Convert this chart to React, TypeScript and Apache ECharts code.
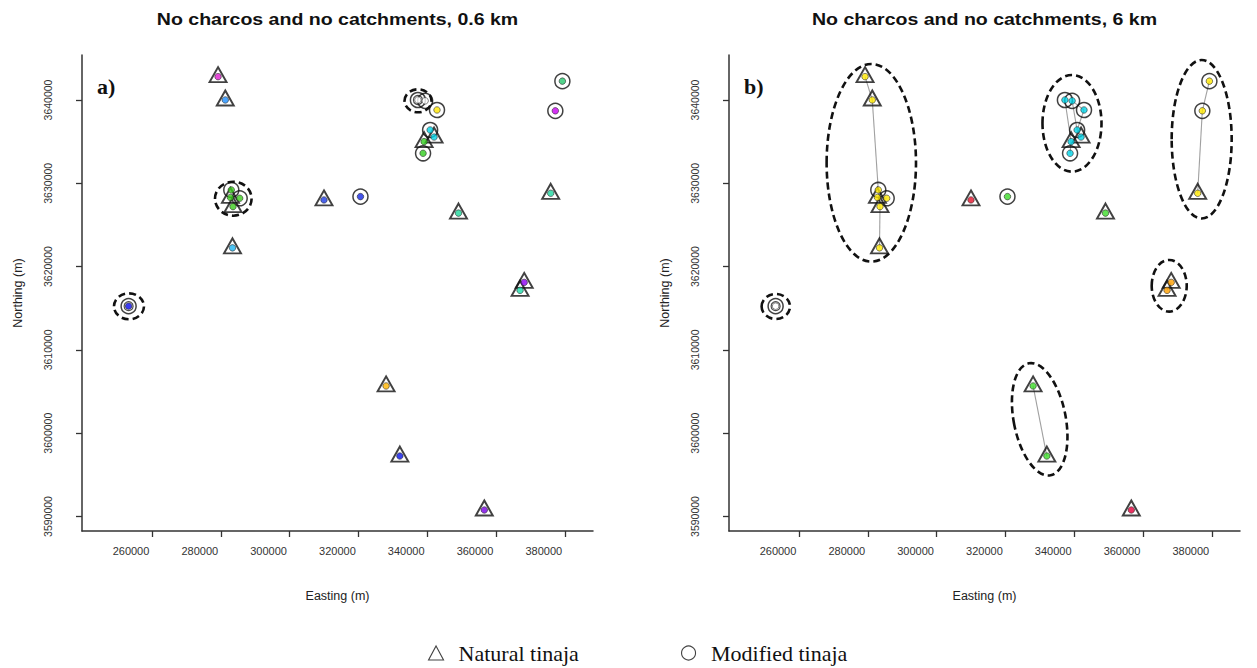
import React, { useEffect, useRef } from "react";
import * as echarts from "echarts";

// ---------- axis ticks ----------
const xTicks = [260000, 280000, 300000, 320000, 340000, 360000, 380000];
const yTicks = [3590000, 3600000, 3610000, 3620000, 3630000, 3640000];

// ---------- natural tinajas (triangles) ----------
const naturalIds = ["N1", "N2", "N3", "N4", "N5", "N6", "N7", "N8", "N9", "N10", "N11", "N12", "N13", "N14", "N15"];
const naturalEasting = [279200, 281300, 283550, 282800, 283400, 310000, 342000, 339100, 375900, 349100, 368200, 367000, 328050, 332050, 356600];
const naturalNorthing = [3642800, 3640000, 3627200, 3628300, 3622250, 3628000, 3635550, 3635000, 3628800, 3626420, 3618100, 3617150, 3605670, 3597260, 3590780];
const naturalColorA = ["#E01ED0", "#1E8FFF", "#3CCB1E", "#3CCB1E", "#1EB4F0", "#1E3CE6", "#00D2E6", "#32CD1E", "#1ED7A0", "#1ED79B", "#8C00F0", "#1EDCAA", "#FFB400", "#0A14E6", "#7800E6"];
const naturalColorB = ["#FFE800", "#FFE800", "#FFE800", "#FFE800", "#FFE800", "#E6142D", "#00D2E6", "#00D2E6", "#FFE800", "#3CDC28", "#FFA000", "#FFA000", "#3CDC28", "#3CDC28", "#E6003C"];

// ---------- modified tinajas (circles) ----------
const modifiedIds = ["M1", "M2", "M3", "M4", "M5", "M6", "M7", "M8", "M9", "M10", "M11"];
const modifiedEasting = [253200, 283050, 285490, 320600, 337300, 339400, 342850, 340850, 338800, 379300, 377250];
const modifiedNorthing = [3615250, 3629200, 3628200, 3628400, 3640000, 3639900, 3638800, 3636400, 3633600, 3642260, 3638700];
const modifiedColorA = ["#0A0AF0", "#3CCB1E", "#3CCB1E", "#1428E6", "#FFFFFF", "#FFFFFF", "#FFE600", "#00D2E6", "#32CD1E", "#28C86E", "#C800F0"];
const modifiedColorB = ["#FFFFFF", "#FFE800", "#FFE800", "#3CDC28", "#00D2E6", "#00D2E6", "#00D2E6", "#00D2E6", "#00D2E6", "#FFE800", "#FFE800"];

// sites drawn with an extra inner ring (stacked sites)
const ringsA = ["M1", "M5"];
const ringsB = ["M1"];

// cluster links (panel b, 6 km)
const linksB: [string, string][] = [
  ["N1", "N2"], ["N2", "M2"], ["M2", "N3"], ["N3", "N5"], ["M3", "N4"],
  ["M5", "N8"], ["M6", "M7"], ["M7", "M8"], ["M8", "N7"], ["N8", "M9"], ["M6", "M8"],
  ["M10", "M11"], ["M11", "N9"],
  ["N13", "N14"],
  ["N11", "N12"],
];

// cluster outlines: [centre easting, centre northing, half-width (m), half-height (m), tilt deg]
const ellipsesA = [
  [283630, 3628150, 5320, 2040, 0],
  [253310, 3615230, 4360, 1560, 0],
  [337330, 3639900, 3920, 1380, 0],
];
const ellipsesB = [
  [281020, 3632460, 12990, 11860, 0],
  [253260, 3615210, 4130, 1500, 0],
  [339360, 3637200, 8580, 5800, 0],
  [377060, 3635290, 8720, 9510, 0],
  [367620, 3617700, 5090, 3100, 0],
  [329970, 3601670, 7560, 6840, 11],
];

const titles = ["No charcos and no catchments, 0.6 km", "No charcos and no catchments, 6 km"];
const panelTags = ["a)", "b)"];
const legendNames = ["Natural tinaja", "Modified tinaja"];

// ---------- helpers ----------
const X_MIN = 239650;
const X_MAX = 388200;
const Y_MIN = 3588260;
const Y_MAX = 3645400;

function lookup(id: string): [number, number] {
  const ni = naturalIds.indexOf(id);
  if (ni >= 0) return [naturalEasting[ni], naturalNorthing[ni]];
  const mi = modifiedIds.indexOf(id);
  return [modifiedEasting[mi], modifiedNorthing[mi]];
}

const SANS = "Liberation Sans, Arial, sans-serif";
const SERIF = "Liberation Serif, Times New Roman, serif";

const GRID_LEFT = [82, 729];
const GRID_TOP = 55;
const GRID_W = 511;
const GRID_H = 476;
const LEGEND_LEFT = [428, 681];

const plain = (v: number) => String(Math.round(v));

function makeXAxis(i: number) {
  return {
    type: "value",
    gridIndex: i,
    min: X_MIN,
    max: X_MAX,
    splitLine: { show: false },
    axisLine: { show: true, onZero: false, lineStyle: { color: "#333", width: 1.5 } },
    axisTick: { show: true, customValues: xTicks, length: 6, lineStyle: { color: "#333", width: 1.3 } },
    axisLabel: {
      customValues: xTicks,
      formatter: plain,
      fontSize: 11,
      fontFamily: SANS,
      color: "#333",
      margin: 14,
      padding: [0, 42, 0, 0],
    },
    name: "Easting (m)",
    nameLocation: "middle",
    nameGap: 58,
    nameTextStyle: { fontSize: 12.5, fontFamily: SANS, color: "#222" },
  };
}

function makeYAxis(i: number) {
  return {
    type: "value",
    gridIndex: i,
    min: Y_MIN,
    max: Y_MAX,
    splitLine: { show: false },
    axisLine: { show: true, onZero: false, lineStyle: { color: "#333", width: 1.5 } },
    axisTick: { show: true, customValues: yTicks, length: 6, lineStyle: { color: "#333", width: 1.3 } },
    axisLabel: {
      customValues: yTicks,
      formatter: plain,
      rotate: 90,
      fontSize: 10.5,
      fontFamily: SANS,
      color: "#333",
      margin: 29,
    },
    name: "Northing (m)",
    nameLocation: "middle",
    nameRotate: 90,
    nameGap: 58,
    nameTextStyle: { fontSize: 12.5, fontFamily: SANS, color: "#222" },
  };
}

function ellipseSeries(i: number, data: number[][]) {
  return {
    type: "custom",
    xAxisIndex: i,
    yAxisIndex: i,
    silent: true,
    z: 5,
    data,
    renderItem: (_p: any, api: any) => {
      const c = api.coord([api.value(0), api.value(1)]);
      const s = api.size([api.value(2), api.value(3)]);
      const ang = (api.value(4) * Math.PI) / 180;
      return {
        type: "ellipse",
        x: c[0],
        y: c[1],
        rotation: ang,
        shape: { cx: 0, cy: 0, rx: s[0], ry: s[1] },
        style: { fill: "none", stroke: "#111", lineWidth: 2.6, lineDash: [7, 4] },
      };
    },
  };
}

function linkSeries(i: number, links: [string, string][]) {
  const data = links.map(([a, b]) => {
    const p = lookup(a);
    const q = lookup(b);
    return [p[0], p[1], q[0], q[1]];
  });
  return {
    type: "custom",
    xAxisIndex: i,
    yAxisIndex: i,
    silent: true,
    z: 1,
    data,
    renderItem: (_p: any, api: any) => {
      const a = api.coord([api.value(0), api.value(1)]);
      const b = api.coord([api.value(2), api.value(3)]);
      return {
        type: "line",
        shape: { x1: a[0], y1: a[1], x2: b[0], y2: b[1] },
        style: { stroke: "#a0a0a0", lineWidth: 1.1 },
      };
    },
  };
}

function panelSeries(i: number, natColors: string[], modColors: string[], rings: string[]) {
  const natural = naturalEasting.map((x, k) => [x, naturalNorthing[k]]);
  const modified = modifiedEasting.map((x, k) => [x, modifiedNorthing[k]]);
  const dots = [
    ...natural.map((v, k) => ({ value: v, itemStyle: { color: natColors[k] } })),
    ...modified.map((v, k) => ({ value: v, itemStyle: { color: modColors[k] } })),
  ];
  return [
    {
      type: "scatter",
      name: legendNames[0],
      xAxisIndex: i,
      yAxisIndex: i,
      symbol: "triangle",
      symbolSize: [17, 15],
      symbolOffset: [0, -2],
      itemStyle: { color: "rgba(255,255,255,0)", borderColor: "#111", borderWidth: 1.9 },
      z: 3,
      silent: true,
      data: natural,
    },
    {
      type: "scatter",
      name: legendNames[1],
      xAxisIndex: i,
      yAxisIndex: i,
      symbol: "circle",
      symbolSize: 15,
      itemStyle: { color: "rgba(255,255,255,0)", borderColor: "#111", borderWidth: 1.5 },
      z: 3,
      silent: true,
      data: modified,
    },
    {
      type: "scatter",
      name: "rings",
      xAxisIndex: i,
      yAxisIndex: i,
      symbol: "circle",
      symbolSize: 9,
      itemStyle: { color: "rgba(255,255,255,0)", borderColor: "#222", borderWidth: 1.2 },
      z: 3,
      silent: true,
      data: rings.map((id) => lookup(id)),
    },
    {
      type: "scatter",
      name: "sites",
      xAxisIndex: i,
      yAxisIndex: i,
      symbol: "circle",
      symbolSize: 6.5,
      itemStyle: { borderColor: "#222", borderWidth: 0.7 },
      z: 4,
      silent: true,
      data: dots,
    },
  ];
}

export default function App() {
  const ref = useRef<HTMLDivElement>(null);
  useEffect(() => {
    if (!ref.current) return;
    const chart = echarts.init(ref.current, null, { renderer: "svg" });
    const option: any = {
      animation: false,
      backgroundColor: "#fff",
      grid: GRID_LEFT.map((l) => ({ left: l, top: GRID_TOP, width: GRID_W, height: GRID_H })),
      xAxis: [makeXAxis(0), makeXAxis(1)],
      yAxis: [makeYAxis(0), makeYAxis(1)],
      legend: legendNames.map((n, i) => ({
        data: [n],
        left: LEGEND_LEFT[i],
        top: 642,
        padding: 0,
        itemWidth: 15,
        itemHeight: 14,
        selectedMode: false,
        itemStyle: { borderWidth: 1.1, borderColor: "#111", color: "rgba(255,255,255,0)" },
        textStyle: { fontFamily: SERIF, fontSize: 22, color: "#111", padding: [0, 0, 0, 10] },
      })),
      graphic: [
        ...titles.map((t, i) => ({
          type: "text",
          x: GRID_LEFT[i] + GRID_W / 2,
          y: 19,
          scaleX: 1.15,
          silent: true,
          style: {
            text: t,
            fontSize: 17,
            fontWeight: "bold",
            fontFamily: SANS,
            fill: "#111",
            align: "center",
            verticalAlign: "middle",
          },
        })),
        ...panelTags.map((t, i) => ({
          type: "text",
          x: GRID_LEFT[i] + 15,
          y: 86,
          silent: true,
          style: {
            text: t,
            fontSize: 22,
            fontWeight: "bold",
            fontFamily: SERIF,
            fill: "#111",
            align: "left",
            verticalAlign: "middle",
          },
        })),
      ],
      series: [
        ellipseSeries(0, ellipsesA),
        ...panelSeries(0, naturalColorA, modifiedColorA, ringsA),
        ellipseSeries(1, ellipsesB),
        linkSeries(1, linksB),
        ...panelSeries(1, naturalColorB, modifiedColorB, ringsB),
      ],
    };
    chart.setOption(option);
    return () => chart.dispose();
  }, []);
  return (
    <div
      ref={ref}
      style={{ position: "fixed", left: 0, top: 0, width: 1257, height: 668, background: "#fff" }}
    />
  );
}
